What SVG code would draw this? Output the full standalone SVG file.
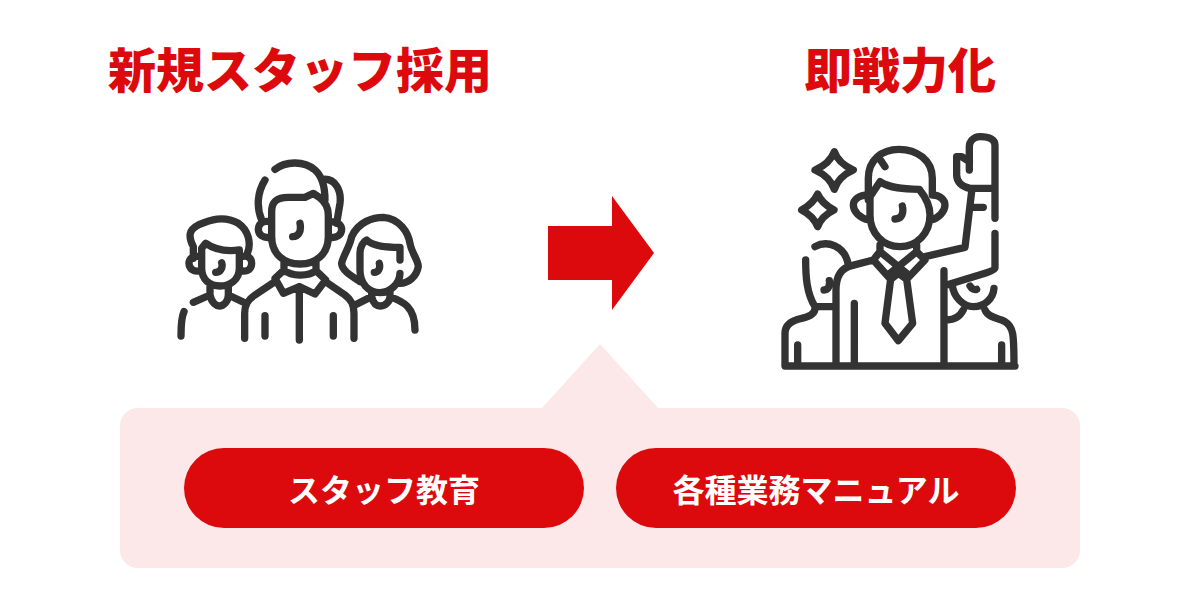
<svg xmlns="http://www.w3.org/2000/svg" width="1200" height="600" viewBox="0 0 1200 600">
<style>
.t{font-family:"Noto Sans CJK JP","Noto Sans",sans-serif;font-weight:900;text-anchor:middle}
.h{font-size:48px;fill:#dc0a0c}
.b{font-size:32px;fill:#fff;font-weight:700}
.ic{fill:none;stroke:#333;stroke-width:22;stroke-linecap:round;stroke-linejoin:round}
.red{fill:#dc0a0c}
</style>
<rect width="1200" height="600" fill="#fff"/>
<g id="title-left"><text class="t h" x="300" y="88">新規スタッフ採用</text></g>
<g id="title-right"><text class="t h" x="900" y="88">即戦力化</text></g>
<g id="icon-team" transform="translate(160 140) scale(.3333)"><path class="ic" d="M345 88C375 65 430 60 465 90C490 112 495 150 495 180M315 120C290 160 290 205 305 240M490 118C525 115 545 150 540 190L530 250M335 290V215C335 185 350 172 385 172H435L460 160L478 172C495 185 505 205 505 225V290C505 340 470 372 420 372C370 372 335 340 335 290ZM330 245C305 240 295 255 295 268C295 285 310 295 330 292M510 245C535 245 545 255 545 268C545 285 530 295 510 292M420 250C425 275 415 290 398 290M372 365V395M468 365V395M372 390L345 415L370 460L418 440L465 462L497 420L468 392C445 410 395 410 372 390ZM418 440V600M345 425L285 465C262 480 254 495 254 520V595M497 425L555 465C575 480 582 495 582 520V595M315 527V588M520 527V588"/>
<path class="ic" d="M100 355V320C85 290 85 270 115 255C150 240 190 225 235 250C265 270 275 310 262 340M125 385V325L137 310C165 330 200 335 238 330V385C238 420 210 438 180 438C150 438 125 420 125 385ZM120 350C100 345 87 355 87 370C87 385 100 397 120 392M245 350C265 345 275 355 275 370C275 385 265 397 245 392M185 368C190 385 180 397 167 397M100 487L150 465C155 490 170 498 178 498C190 498 205 485 205 465L258 490M150 440V465M205 440V465M72 515C65 530 63 560 63 588"/>
<path class="ic" d="M600 425C570 405 545 390 545 370C550 345 570 320 575 290C595 245 640 232 670 232C720 235 745 280 750 310C755 340 775 360 775 380C770 410 745 430 720 430M600 390V340C600 320 610 305 620 300C640 320 680 322 720 322V360M720 400C720 430 690 458 660 458C625 458 600 430 600 390M658 370C662 385 655 397 643 397M585 495L635 470C640 490 650 498 660 498C675 498 690 485 690 470C730 485 765 500 765 570M635 455V470M690 455V470"/></g>
<g id="icon-ready" transform="translate(770 120) scale(.3333)"><path class="ic" d="M193 95Q205 130 250 150Q205 170 193 208Q180 170 135 150Q180 130 193 95ZM143 222Q155 250 192 270Q155 288 143 320Q130 288 95 270Q130 250 143 222Z"/>
<path class="ic" d="M295 240V175C295 120 335 88 387 88C440 88 487 120 487 175V225M325 110L345 140M300 285V230L330 185C360 205 400 208 448 208C470 235 480 260 480 285C480 340 440 380 390 380C340 380 300 340 300 285ZM295 225C265 225 250 240 250 255C250 275 270 295 297 300M487 225C510 225 525 240 525 255C525 275 505 295 483 300M397 258C402 280 395 297 375 297M330 375V395L310 420L362 478L385 460L410 478L465 420L440 395V375M330 395L410 460M440 395L360 460M362 478L345 610L385 662L428 610L410 478M310 420L245 437C210 445 198 475 198 510V738M465 410L585 382L605 215M600 205H665M675 295V75C675 60 660 50 630 50C610 50 598 65 598 80V150M598 125L575 110H560V165C560 185 575 200 600 205M610 262H640M675 340V445C675 450 660 455 650 458L530 495M547 495C550 530 580 560 610 560C645 560 670 535 672 505M600 498C605 508 615 510 620 508M522 452V738M530 600C555 600 570 590 580 570M645 570C655 595 690 595 705 605C730 620 732 640 732 738M695 675V738M253 550V738M45 738H735M45 738V640C45 610 70 600 95 595C120 590 135 580 135 565M107 420C107 470 110 520 135 560H198M135 380C170 360 225 375 235 435M178 482C180 498 175 510 162 510M83 675V738"/></g>
<g id="arrow"><path class="red" d="M548 226H612V196L654 253L612 310V280H548Z"/></g>
<g id="panel"><path fill="#fce8e8" d="M138 408H542L600 344L658 408H1062A18 18 0 0 1 1080 426V550A18 18 0 0 1 1062 568H138A18 18 0 0 1 120 550V426A18 18 0 0 1 138 408Z"/></g>
<g id="btn-education"><rect class="red" x="184" y="448" width="400" height="80" rx="40"/><text class="t b" x="384" y="502">スタッフ教育</text></g>
<g id="btn-manual"><rect class="red" x="616" y="448" width="400" height="80" rx="40"/><text class="t b" x="816" y="502">各種業務マニュアル</text></g>
</svg>
